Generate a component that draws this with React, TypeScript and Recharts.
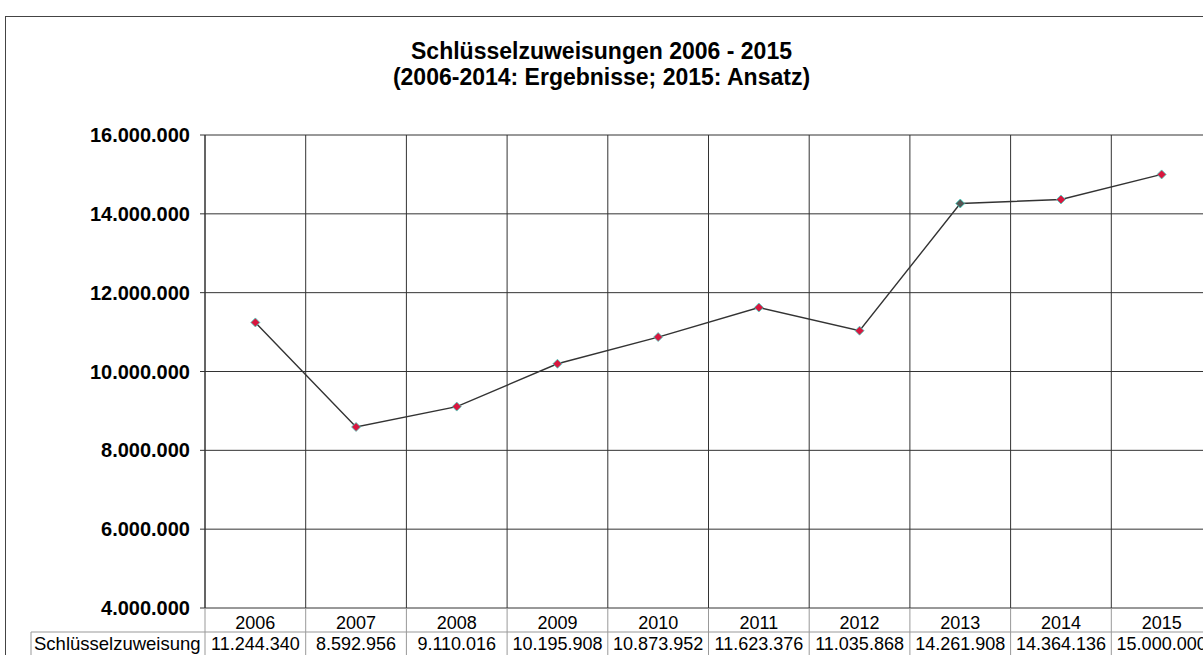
import { ComposedChart, Line, XAxis, YAxis, CartesianGrid } from 'recharts';

const YEARS = ['2006', '2007', '2008', '2009', '2010', '2011', '2012', '2013', '2014', '2015'];
const AMOUNTS = [11244340, 8592956, 9110016, 10195908, 10873952, 11623376, 11035868, 14261908, 14364136, 15000000];
const Y_TICKS = [4000000, 6000000, 8000000, 10000000, 12000000, 14000000, 16000000];
const SERIES_NAME = 'Schlüsselzuweisung';
const TITLE_1 = 'Schlüsselzuweisungen 2006 - 2015';
const TITLE_2 = '(2006-2014: Ergebnisse; 2015: Ansatz)';

const data = YEARS.map((year, i) => ({ year, value: AMOUNTS[i] }));

const FONT = '"Liberation Sans", Arial, sans-serif';
const CHART_W = 1212;
const CHART_H = 655;
const PLOT_LEFT = 205;
const PLOT_TOP = 135;
const AXIS_H = 47;
const PLOT_H = CHART_H - PLOT_TOP - AXIS_H;
const BAND = (CHART_W - PLOT_LEFT) / YEARS.length;

const fmt = (v: number) => String(v).replace(/\B(?=(\d{3})+(?!\d))/g, '.');

// data table under the plot, drawn one column per category tick
function TableTick(props: any) {
    const { x, y, payload } = props;
    const i = payload.index;
    const left = x - BAND / 2;
    const right = x + BAND / 2;
    const rowY = y + 24;
    return (
        <g>
            <line x1={left} x2={left} y1={y - PLOT_H} y2={y} stroke="#333" />
            <line x1={left} x2={left} y1={y} y2={y + 50} stroke="#999" />
            <line x1={left} x2={right} y1={rowY} y2={rowY} stroke="#999" />
            {i === YEARS.length - 1 && (
                <>
                    <line x1={right} x2={right} y1={y - PLOT_H} y2={y} stroke="#333" />
                    <line x1={right} x2={right} y1={y} y2={y + 50} stroke="#999" />
                </>
            )}
            {i === 0 && (
                <>
                    <line x1={31} x2={left} y1={rowY} y2={rowY} stroke="#999" />
                    <line x1={31} x2={31} y1={rowY} y2={y + 50} stroke="#999" />
                    <text x={34} y={y + 42} fontSize={18.5} fontFamily={FONT} fill="#000">{SERIES_NAME}</text>
                </>
            )}
            <text x={x} y={y + 20.5} textAnchor="middle" fontSize={18} fontFamily={FONT} fill="#000">{payload.value}</text>
            <text x={x} y={y + 42} textAnchor="middle" fontSize={18} fontFamily={FONT} fill="#000">{fmt(AMOUNTS[i])}</text>
        </g>
    );
}

function DiamondDot(props: any) {
    const { cx, cy, payload } = props;
    if (cx == null || cy == null) return null;
    const r = 4.5;
    const fill = payload.year === '2013' ? '#555' : '#d8173f';
    return (
        <polygon
            points={`${cx},${cy - r} ${cx + r},${cy} ${cx},${cy + r} ${cx - r},${cy}`}
            fill={fill}
            stroke="#3fd6c4"
            strokeWidth={0.8}
        />
    );
}

export default function App() {
    return (
        <div style={{ position: 'absolute', left: 0, top: 0, width: 1203, height: 655, overflow: 'hidden', background: '#fff' }}>
            {/* chart frame */}
            <div style={{ position: 'absolute', left: 5, top: 16, width: 1300, height: 800, borderTop: '1px solid #444', borderLeft: '1px solid #444' }} />
            <div style={{ position: 'absolute', left: 0, top: 38, width: 1203, textAlign: 'center', fontFamily: FONT, fontWeight: 'bold', fontSize: 23, lineHeight: '26px', color: '#000' }}>
                <div>{TITLE_1}</div>
                <div>{TITLE_2}</div>
            </div>
            <div style={{ position: 'absolute', left: 0, top: 0 }}>
                <ComposedChart width={CHART_W} height={CHART_H} data={data} margin={{ top: PLOT_TOP, right: 0, bottom: 0, left: 0 }}>
                    <CartesianGrid vertical={false} stroke="#333" />
                    <XAxis
                        dataKey="year"
                        scale="band"
                        height={AXIS_H}
                        axisLine={false}
                        tickLine={false}
                        tickSize={0}
                        tickMargin={0}
                        interval={0}
                        tick={<TableTick />}
                    />
                    <YAxis
                        width={PLOT_LEFT}
                        domain={[4000000, 16000000]}
                        ticks={Y_TICKS}
                        tickFormatter={fmt}
                        axisLine={{ stroke: '#333' }}
                        tickLine={{ stroke: '#333' }}
                        tickSize={5}
                        tickMargin={10}
                        tick={{ fill: '#000', fontSize: 20, fontWeight: 'bold', fontFamily: FONT }}
                    />
                    <Line
                        dataKey="value"
                        stroke="#333"
                        strokeWidth={1.4}
                        dot={<DiamondDot />}
                        activeDot={false}
                        isAnimationActive={false}
                    />
                </ComposedChart>
            </div>
        </div>
    );
}
